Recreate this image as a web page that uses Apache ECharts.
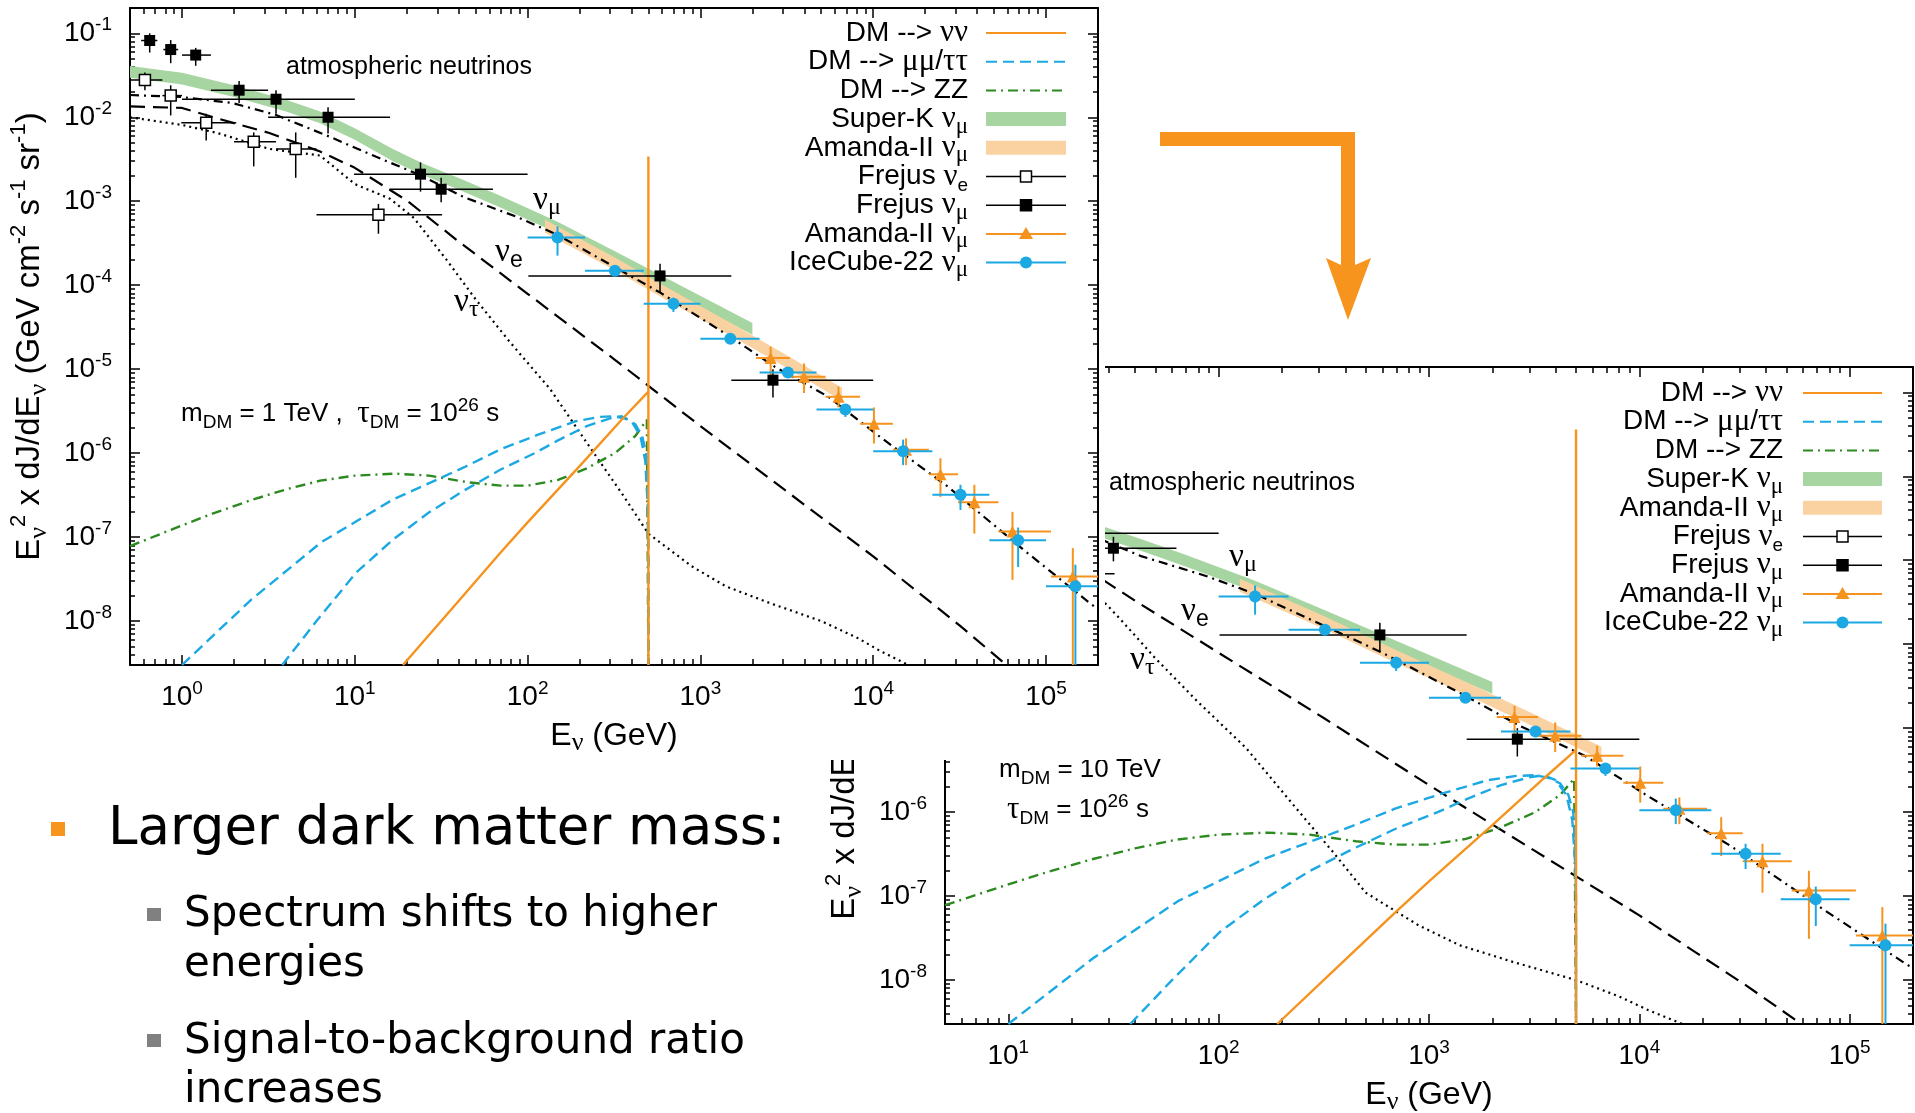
<!DOCTYPE html>
<html>
<head>
<meta charset="utf-8">
<title>Decaying dark matter neutrino spectra</title>
<script src="https://cdn.jsdelivr.net/npm/echarts@6.0.0/dist/echarts.min.js"></script>
<style>
  html, body { margin: 0; padding: 0; background: #fff; overflow: hidden; }
  #slide { position: absolute; left: 0; top: 0; width: 1915px; height: 1113px; }
  #plotA { position: absolute; left: 0; top: 0; width: 1105px; height: 760px; background: #fff; }
</style>
</head>
<body>
<div id="slide"></div>
<div id="plotA"></div>
<script>
var FONT = 'Liberation Sans';
var GREEK = 'Liberation Serif';
var SLIDE_FONT = 'DejaVu Sans';

var ORANGE = '#f5931e';
var BLUE = '#1ba8e3';
var GREEN = '#2c8a20';
var SK_FILL = '#a7d5a1';
var AM_FILL = '#fad2a1';
var ARROW = '#f7941d';

// axis ranges (GeV ; GeV cm^-2 s^-1 sr^-1)
var energyRange1 = [0.5, 2e5];
var energyRange2 = [5, 2e5];
var fluxRange = [3e-9, 0.2];
var energyDecades1 = [1, 10, 100, 1e3, 1e4, 1e5];
var energyDecades2 = [10, 100, 1e3, 1e4, 1e5];
var fluxDecades = [1e-8, 1e-7, 1e-6, 1e-5, 1e-4, 1e-3, 1e-2, 1e-1];

// atmospheric neutrino models [E, E^2 dJ/dE]
var atmNuMu = [[0.5,1.84e-2],[1,1.74e-2],[1.95,1.48e-2],[3.47,1.07e-2],[7.1,5.9e-3],[13.2,3.4e-3],[24,2.04e-3],[42.7,1.12e-3],[87,6.5e-4],[148,4.0e-4],[589,8.1e-5],[1480,2.45e-5],[2690,1.07e-5],[5500,4.7e-6],[1.1e4,1.55e-6],[2.7e4,4.0e-7],[7.4e4,7.1e-8],[1.78e5,1.66e-8],[2e5,1.38e-8]];
var atmNuE = [[0.5,1.35e-2],[1,1.29e-2],[2,8.5e-3],[3.2,6.5e-3],[6.3,3.9e-3],[10,2.5e-3],[20,1.02e-3],[40,3.3e-4],[100,7.9e-5],[316,1.32e-5],[1000,2.1e-6],[3160,3.5e-7],[1e4,5.9e-8],[3.16e4,8.9e-9],[5.9e4,3.0e-9]];
var atmNuTau = [[0.5,1.0e-2],[1,8.1e-3],[1.6,6.5e-3],[3.2,4.2e-3],[6.3,3.5e-3],[10,1.6e-3],[16,1.07e-3],[22,6.3e-4],[34,2.0e-4],[50,6.8e-5],[79,2.1e-5],[135,5.8e-6],[224,1.26e-6],[355,3.2e-7],[500,1.1e-7],[890,4.5e-8],[1400,2.6e-8],[2500,1.65e-8],[5000,1.0e-8],[8000,6.4e-9],[1.1e4,4.4e-9],[1.6e4,3.0e-9]];

// measured bands [E, low, high]
var superKBand = [[0.5,2.95e-2,4.07e-2],[1,2.45e-2,3.39e-2],[2,1.74e-2,2.4e-2],[4,1.17e-2,1.62e-2],[6.3,8.5e-3,1.17e-2],[10,5.4e-3,7.4e-3],[16.6,3.0e-3,4.2e-3],[25,2.04e-3,2.8e-3],[43,1.29e-3,1.78e-3],[69,8.5e-4,1.17e-3],[148,4.2e-4,5.75e-4],[316,1.86e-4,2.57e-4],[630,8.9e-5,1.23e-4],[2000,2.57e-5,3.55e-5]];
var amandaBand = [[126,4.2e-4,6.0e-4],[316,1.53e-4,2.16e-4],[676,6.2e-5,8.8e-5],[1480,2.54e-5,3.6e-5],[3160,1.04e-5,1.46e-5],[6600,4.2e-6,6.0e-6]];

// data points [E, flux, E low, E high, flux low, flux high]
var frejusNuE = [[0.61,2.78e-2,0.5,0.77,2.1e-2,3.4e-2],[0.86,1.81e-2,0.77,1.0,1.05e-2,2.4e-2],[1.38,8.6e-3,0.99,2.06,5.3e-3,1.1e-2],[2.6,5.1e-3,2.0,3.5,2.6e-3,6.6e-3],[4.55,4.2e-3,3.5,6.0,1.9e-3,6.6e-3],[13.7,6.9e-4,6.0,32,4.1e-4,9.3e-4]];
var frejusNuMu = [[0.65,8.2e-2,0.58,0.72,5.9e-2,0.10],[0.86,6.4e-2,0.78,0.95,4.4e-2,8.3e-2],[1.2,5.5e-2,1.0,1.47,4.1e-2,6.7e-2],[2.14,2.1e-2,1.47,3.15,1.48e-2,2.7e-2],[3.5,1.64e-2,1.0,10,1.1e-2,2.1e-2],[7.0,1.0e-2,3.15,16,6.4e-3,1.32e-2],[24,2.1e-3,9.9,100,1.3e-3,2.9e-3],[31.6,1.39e-3,15.9,63,9.7e-4,1.9e-3],[584,1.29e-4,101,1510,8.2e-5,1.8e-4],[2630,7.4e-6,1510,1e4,4.6e-6,1.0e-5]];
var amandaNuMu = [[2550,1.36e-5,2100,3300,8.5e-6,1.85e-5],[3980,8.1e-6,3300,5300,5.2e-6,1.17e-5],[6300,4.7e-6,5300,8400,3.5e-6,6.2e-6],[1.01e4,2.24e-6,8400,1.3e4,1.3e-6,3.5e-6],[1.55e4,1.1e-6,1.3e4,2.1e4,7.2e-7,1.5e-6],[2.45e4,5.6e-7,2.1e4,3.1e4,3.0e-7,8.7e-7],[3.85e4,2.6e-7,3.1e4,5.3e4,1.1e-7,4.2e-7],[6.4e4,1.17e-7,5.3e4,1.07e5,3.1e-8,2.0e-7],[1.43e5,3.4e-8,1.07e5,2e5,3e-9,7.4e-8]];
var iceCube22 = [[149,3.7e-4,100,215,2.25e-4,5.0e-4],[320,1.49e-4,215,470,1.38e-4,1.6e-4],[698,6.0e-5,470,1000,4.8e-5,7.1e-5],[1490,2.3e-5,1000,2200,2.1e-5,2.5e-5],[3210,9.1e-6,2200,4700,8.3e-6,1.0e-5],[6900,3.3e-6,4700,1e4,2.7e-6,3.8e-6],[1.49e4,1.05e-6,1e4,2.2e4,7.2e-7,1.45e-6],[3.2e4,3.2e-7,2.2e4,4.7e4,2.1e-7,4.2e-7],[6.9e4,9.2e-8,4.7e4,1e5,4.4e-8,1.3e-7],[1.48e5,2.6e-8,1e5,2e5,3e-9,4.7e-8]];

// dark matter signal, m_DM = 1 TeV
var dmNuNu1 = [[19,3e-9],[40,1.75e-8],[70,6.6e-8],[100,1.5e-7],[200,7.0e-7],[350,2.5e-6],[500,5.4e-6],[500,3.4e-3],[500,3e-9]];
var dmTauTau1 = [[1.0,3e-9],[2.5,1.78e-8],[6.4,8.7e-8],[16.6,2.8e-7],[43,6.8e-7],[69,1.1e-6],[115,1.66e-6],[190,2.4e-6],[260,2.7e-6],[320,2.75e-6],[370,2.57e-6],[420,2.2e-6],[460,1.6e-6],[485,1.0e-6],[495,4e-7],[500,1e-7],[500,3e-9]];
var dmMuMu1 = [[3.8,3e-9],[6,1.0e-8],[10.2,3.8e-8],[16.6,9.3e-8],[26.7,1.95e-7],[43,3.6e-7],[69,6.3e-7],[110,1.0e-6],[148,1.4e-6],[220,2.1e-6],[300,2.6e-6],[350,2.75e-6],[400,2.4e-6],[450,1.6e-6],[480,8e-7],[495,2.5e-7],[500,5e-8],[500,3e-9]];
var dmZZ1 = [[0.5,7.8e-8],[1.0,1.38e-7],[1.5,1.9e-7],[2.5,2.75e-7],[4,3.7e-7],[6.3,4.7e-7],[10,5.4e-7],[17,5.7e-7],[27,5.4e-7],[45,4.5e-7],[70,4.1e-7],[100,4.1e-7],[150,4.8e-7],[220,6.6e-7],[320,1.0e-6],[420,1.6e-6],[490,2.5e-6],[500,2.6e-6],[500,3e-9]];

// dark matter signal, m_DM = 10 TeV
var dmNuNu2 = [[190,3e-9],[400,1.75e-8],[700,6.6e-8],[1000,1.5e-7],[2000,7.0e-7],[3500,2.5e-6],[5000,5.5e-6],[5000,3.6e-2],[5000,3e-9]];
var dmTauTau2 = [[10,3e-9],[25,1.78e-8],[64,8.7e-8],[166,2.8e-7],[430,6.8e-7],[690,1.1e-6],[1150,1.66e-6],[1900,2.4e-6],[2600,2.7e-6],[3200,2.75e-6],[3700,2.57e-6],[4200,2.2e-6],[4600,1.6e-6],[4850,1.0e-6],[4950,4e-7],[5000,1e-7],[5000,3e-9]];
var dmMuMu2 = [[38,3e-9],[60,1.0e-8],[102,3.8e-8],[166,9.3e-8],[267,1.95e-7],[430,3.6e-7],[690,6.3e-7],[1100,1.0e-6],[1480,1.4e-6],[2200,2.1e-6],[3000,2.6e-6],[3500,2.75e-6],[4000,2.4e-6],[4500,1.6e-6],[4800,8e-7],[4950,2.5e-7],[5000,5e-8],[5000,3e-9]];
var dmZZ2 = [[5,7.8e-8],[10,1.38e-7],[15,1.9e-7],[25,2.75e-7],[40,3.7e-7],[63,4.7e-7],[100,5.4e-7],[170,5.7e-7],[270,5.4e-7],[450,4.5e-7],[700,4.1e-7],[1000,4.1e-7],[1500,4.8e-7],[2200,6.6e-7],[3200,1.0e-6],[4200,1.6e-6],[4900,2.5e-6],[5000,2.6e-6],[5000,3e-9]];

var legendLabels = [
  'DM --> {g|νν}',
  'DM --> {g|μμ}/{g|ττ}',
  'DM --> ZZ',
  'Super-K {g|ν}{gs|μ}',
  'Amanda-II {g|ν}{gs|μ}',
  'Frejus {g|ν}{ss|e}',
  'Frejus {g|ν}{gs|μ}',
  'Amanda-II {g|ν}{gs|μ}',
  'IceCube-22 {g|ν}{gs|μ}'
];

var legendKinds = [
  {color: ORANGE},
  {color: BLUE, dash: [11, 6]},
  {color: GREEN, dash: [10, 5, 2, 5]},
  {band: SK_FILL},
  {band: AM_FILL},
  {color: '#000', width: 1.5, mark: 'open'},
  {color: '#000', width: 1.5, mark: 'square'},
  {color: ORANGE, mark: 'triangle'},
  {color: BLUE, mark: 'circle'}
];

var tickRich = {
  b: {fontFamily: FONT, fontSize: 28, lineHeight: 36, color: '#000'},
  s: {fontFamily: FONT, fontSize: 19, lineHeight: 17, verticalAlign: 'top', color: '#000'}
};
var nameRich = {
  gs: {fontFamily: GREEK, fontSize: 26, lineHeight: 24, verticalAlign: 'bottom', color: '#000'},
  sp: {fontFamily: FONT, fontSize: 22, lineHeight: 20, verticalAlign: 'top', color: '#000'}
};
var textRich = {
  g: {fontFamily: GREEK, fontSize: 31, lineHeight: 36},
  gs: {fontFamily: GREEK, fontSize: 23, lineHeight: 16, verticalAlign: 'bottom'},
  ss: {fontFamily: FONT, fontSize: 19, lineHeight: 20, verticalAlign: 'bottom'},
  sp: {fontFamily: FONT, fontSize: 19, lineHeight: 14, verticalAlign: 'top'}
};
var curveRich = {
  g: {fontFamily: GREEK, fontSize: 33, lineHeight: 40},
  gs: {fontFamily: GREEK, fontSize: 24, lineHeight: 20, verticalAlign: 'bottom'},
  ss: {fontFamily: FONT, fontSize: 23, lineHeight: 20, verticalAlign: 'bottom'}
};

function minorLogs(range) {
  var out = [];
  for (var n = -10; n <= 6; n++) {
    for (var k = 2; k <= 9; k++) {
      var v = k * Math.pow(10, n);
      if (v > range[0] * 1.001 && v < range[1] * 0.999) out.push(Math.log10(v));
    }
  }
  return out;
}

function tickAxis(pos, range, values, len, withLine, extra) {
  var ax = {
    type: 'value', position: pos,
    min: Math.log10(range[0]), max: Math.log10(range[1]),
    axisLine: {show: withLine, onZero: false, lineStyle: {color: '#000', width: 2}},
    axisTick: {show: true, inside: true, length: len, customValues: values, lineStyle: {color: '#000', width: 1.5}},
    axisLabel: {show: false},
    splitLine: {show: false},
    minorTick: {show: false},
    minorSplitLine: {show: false}
  };
  for (var k in extra) ax[k] = extra[k];
  return ax;
}

function powLabels(values, margin) {
  return {
    show: true, customValues: values, margin: margin, color: '#000',
    formatter: function (v) { return '{b|10}{s|' + Math.round(v) + '}'; },
    rich: tickRich
  };
}

function buildAxes(xRange, xDecades) {
  var xMaj = xDecades.map(Math.log10);
  var yMaj = fluxDecades.map(Math.log10);
  var xMin = minorLogs(xRange);
  var yMin = minorLogs(fluxRange);
  var nameStyleX = {fontFamily: FONT, fontSize: 32, lineHeight: 40, color: '#000', rich: nameRich};
  var nameStyleY = {fontFamily: FONT, fontSize: 33, lineHeight: 44, color: '#000', rich: nameRich};
  return {
    x: [
      {type: 'log', logBase: 10, position: 'bottom', min: xRange[0], max: xRange[1], show: false, axisLine: {onZero: false}},
      tickAxis('bottom', xRange, xMaj, 10, true, {
        axisLabel: powLabels(xMaj, 14),
        name: 'E{gs|ν} (GeV)', nameLocation: 'middle', nameGap: 48, nameTextStyle: nameStyleX
      }),
      tickAxis('bottom', xRange, xMin, 6, false),
      tickAxis('top', xRange, xMaj, 10, true),
      tickAxis('top', xRange, xMin, 6, false)
    ],
    y: [
      {type: 'log', logBase: 10, position: 'left', min: fluxRange[0], max: fluxRange[1], show: false, axisLine: {onZero: false}},
      tickAxis('left', fluxRange, yMaj, 10, true, {
        axisLabel: powLabels(yMaj, 18),
        name: 'E{gs|ν}{sp|2} x dJ/dE{gs|ν} (GeV cm{sp|-2} s{sp|-1} sr{sp|-1})',
        nameLocation: 'middle', nameRotate: 90, nameGap: 78, nameTextStyle: nameStyleY
      }),
      tickAxis('left', fluxRange, yMin, 5, false),
      tickAxis('right', fluxRange, yMaj, 10, true),
      tickAxis('right', fluxRange, yMin, 5, false)
    ]
  };
}

function lineSeries(data, color, dash, width, z) {
  return {
    type: 'line', xAxisIndex: 0, yAxisIndex: 0, data: data, symbol: 'none', showSymbol: false,
    smooth: false, silent: true, z: z, clip: true,
    lineStyle: {color: color, width: width, type: dash || 'solid'}
  };
}

function bandSeries(rows, fill, z) {
  return {
    type: 'custom', xAxisIndex: 0, yAxisIndex: 0, z: z, silent: true, clip: true,
    data: rows, encode: {x: 0, y: 1},
    renderItem: function (params, api) {
      if (params.dataIndex !== 0) return null;
      var pts = [];
      for (var i = 0; i < rows.length; i++) pts.push(api.coord([rows[i][0], rows[i][1]]));
      for (var j = rows.length - 1; j >= 0; j--) pts.push(api.coord([rows[j][0], rows[j][2]]));
      return {type: 'polygon', shape: {points: pts}, style: {fill: fill}};
    }
  };
}

function errorSeries(rows, color, width, z) {
  return {
    type: 'custom', xAxisIndex: 0, yAxisIndex: 0, z: z, silent: true, clip: true,
    data: rows, encode: {x: 0, y: 1},
    renderItem: function (params, api) {
      var c = api.coord([api.value(0), api.value(1)]);
      var xl = api.coord([api.value(2), api.value(1)]);
      var xh = api.coord([api.value(3), api.value(1)]);
      var yl = api.coord([api.value(0), api.value(4)]);
      var yh = api.coord([api.value(0), api.value(5)]);
      return {type: 'group', children: [
        {type: 'line', shape: {x1: xl[0], y1: c[1], x2: xh[0], y2: c[1]}, style: {stroke: color, lineWidth: width}},
        {type: 'line', shape: {x1: c[0], y1: yl[1], x2: c[0], y2: yh[1]}, style: {stroke: color, lineWidth: width}}
      ]};
    }
  };
}

function markerSeries(rows, symbol, size, fill, stroke, z) {
  return {
    type: 'scatter', xAxisIndex: 0, yAxisIndex: 0, z: z, silent: true, symbol: symbol, symbolSize: size,
    data: rows.map(function (r) { return [r[0], r[1]]; }),
    itemStyle: {color: fill, borderColor: stroke || fill, borderWidth: stroke ? 1.5 : 0, opacity: 1}
  };
}

function panelSeries(dm) {
  return [
    bandSeries(superKBand, SK_FILL, 1),
    bandSeries(amandaBand, AM_FILL, 1),
    lineSeries(atmNuMu, '#000', [9, 5, 2, 5], 2.2, 2),
    lineSeries(atmNuE, '#000', [15, 8], 2.2, 2),
    lineSeries(atmNuTau, '#000', [2, 4], 2.2, 2),
    lineSeries(dm.zz, GREEN, [10, 5, 2, 5], 2.4, 3),
    lineSeries(dm.tautau, BLUE, [11, 6], 2.4, 3),
    lineSeries(dm.mumu, BLUE, [11, 6], 2.4, 3),
    lineSeries(dm.nunu, ORANGE, null, 2.4, 3),
    errorSeries(frejusNuE, '#000', 1.5, 4),
    errorSeries(frejusNuMu, '#000', 1.5, 4),
    errorSeries(amandaNuMu, ORANGE, 2, 4),
    errorSeries(iceCube22, BLUE, 2, 4),
    markerSeries(frejusNuE, 'rect', 11, '#fff', '#000', 5),
    markerSeries(frejusNuMu, 'rect', 11, '#000', null, 5),
    markerSeries(amandaNuMu, 'triangle', 12, ORANGE, null, 5),
    markerSeries(iceCube22, 'circle', 12, BLUE, null, 5)
  ];
}

function txt(x, y, text, size, rich, family, align) {
  return {
    type: 'text', z: 100, x: x, y: y, silent: true,
    style: {text: text, fill: '#000', fontFamily: family || FONT, fontSize: size, lineHeight: size + 10,
      align: align || 'left', verticalAlign: 'middle', rich: rich || {}}
  };
}

function legendElements(textRight, lineFrom, lineTo, firstRow, rowStep) {
  var els = [];
  var mid = (lineFrom + lineTo) / 2;
  legendLabels.forEach(function (label, i) {
    var y = firstRow + i * rowStep;
    var kind = legendKinds[i];
    els.push(txt(textRight, y, label, 28, textRich, FONT, 'right'));
    if (kind.band) {
      els.push({type: 'rect', z: 100, shape: {x: lineFrom, y: y - 7, width: lineTo - lineFrom, height: 14}, style: {fill: kind.band}});
    } else {
      var st = {stroke: kind.color, lineWidth: kind.width || 2};
      if (kind.dash) st.lineDash = kind.dash;
      els.push({type: 'line', z: 100, shape: {x1: lineFrom, y1: y, x2: lineTo, y2: y}, style: st});
    }
    if (kind.mark === 'open' || kind.mark === 'square') {
      els.push({type: 'rect', z: 101, shape: {x: mid - 5.5, y: y - 5.5, width: 11, height: 11},
        style: {fill: kind.mark === 'open' ? '#fff' : '#000', stroke: '#000', lineWidth: 1.5}});
    } else if (kind.mark === 'triangle') {
      els.push({type: 'polygon', z: 101, shape: {points: [[mid, y - 7], [mid + 7, y + 5], [mid - 7, y + 5]]}, style: {fill: ORANGE}});
    } else if (kind.mark === 'circle') {
      els.push({type: 'circle', z: 101, shape: {cx: mid, cy: y, r: 6}, style: {fill: BLUE}});
    }
  });
  return els;
}

// ---------- upper plot (m_DM = 1 TeV) ----------
var axesA = buildAxes(energyRange1, energyDecades1);
var graphicA = legendElements(968, 986, 1066, 33, 28.7).concat([
  txt(286, 67, 'atmospheric neutrinos', 25),
  txt(181, 414, 'm{ss|DM} = 1 TeV ,  {g|τ}{ss|DM} = 10{sp|26} s', 26, textRich),
  txt(533, 200, '{g|ν}{gs|μ}', 33, curveRich),
  txt(495, 252, '{g|ν}{ss|e}', 33, curveRich),
  txt(454, 302, '{g|ν}{gs|τ}', 33, curveRich)
]);
var chartA = echarts.init(document.getElementById('plotA'));
chartA.setOption({
  backgroundColor: '#fff',
  animation: false,
  textStyle: {fontFamily: FONT},
  grid: {left: 130, top: 8, width: 968, height: 657, containLabel: false, outerBoundsMode: 'none'},
  xAxis: axesA.x,
  yAxis: axesA.y,
  series: panelSeries({nunu: dmNuNu1, tautau: dmTauTau1, mumu: dmMuMu1, zz: dmZZ1}),
  graphic: graphicA
});

// ---------- lower plot (m_DM = 10 TeV) + slide ----------
var axesB = buildAxes(energyRange2, energyDecades2);
var graphicB = legendElements(1783, 1803, 1882, 393, 28.7).concat([
  txt(1109, 483, 'atmospheric neutrinos', 25),
  txt(999, 770, 'm{ss|DM} = 10 TeV', 26, textRich),
  txt(1007, 810, '{g|τ}{ss|DM} = 10{sp|26} s', 26, textRich),
  txt(1229, 557, '{g|ν}{gs|μ}', 33, curveRich),
  txt(1181, 611, '{g|ν}{ss|e}', 33, curveRich),
  txt(1130, 660, '{g|ν}{gs|τ}', 33, curveRich),
  // arrow
  {type: 'polygon', z: 100, shape: {points: [[1160, 132], [1355, 132], [1355, 265], [1371, 258], [1348, 320], [1326, 258], [1341, 265], [1341, 146], [1160, 146]]}, style: {fill: ARROW}},
  // bullets
  {type: 'rect', z: 100, shape: {x: 51, y: 822, width: 14, height: 14}, style: {fill: ARROW}},
  txt(108, 830, 'Larger dark matter mass:', 53, null, SLIDE_FONT),
  {type: 'rect', z: 100, shape: {x: 147, y: 908, width: 14, height: 13}, style: {fill: '#808080'}},
  txt(184, 915, 'Spectrum shifts to higher', 42, null, SLIDE_FONT),
  txt(184, 965, 'energies', 42, null, SLIDE_FONT),
  {type: 'rect', z: 100, shape: {x: 147, y: 1034, width: 14, height: 13}, style: {fill: '#808080'}},
  txt(184, 1042, 'Signal-to-background ratio', 42, null, SLIDE_FONT),
  txt(184, 1091, 'increases', 42, null, SLIDE_FONT)
]);
var chartB = echarts.init(document.getElementById('slide'));
chartB.setOption({
  backgroundColor: '#fff',
  animation: false,
  textStyle: {fontFamily: FONT},
  grid: {left: 945, top: 367, width: 968, height: 657, containLabel: false, outerBoundsMode: 'none'},
  xAxis: axesB.x,
  yAxis: axesB.y,
  series: panelSeries({nunu: dmNuNu2, tautau: dmTauTau2, mumu: dmMuMu2, zz: dmZZ2}),
  graphic: graphicB
});
</script>
</body>
</html>
